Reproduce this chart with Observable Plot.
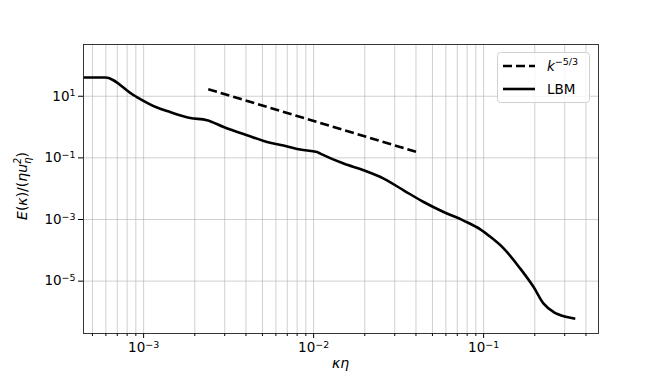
<!DOCTYPE html>
<html>
<head>
<meta charset="utf-8">
<script src="https://cdn.jsdelivr.net/npm/d3@7"></script>
<script src="https://cdn.jsdelivr.net/npm/@observablehq/plot@0.6"></script>
<style>
  html, body { margin: 0; padding: 0; background: #fff; }
  #chart { width: 664px; height: 374px; }
</style>
</head>
<body>
<div id="chart"></div>
<script>
// LBM energy spectrum
const lbmK = [4.42e-4, 5.95e-4, 8.73e-4, 1.199e-3, 1.373e-3, 1.882e-3, 2.36e-3, 2.955e-3, 4.057e-3, 5.32e-3, 6.66e-3, 8.35e-3, 1.047e-2, 1.095e-2, 1.501e-2, 1.968e-2, 2.581e-2, 3.384e-2, 4.437e-2, 5.815e-2, 7.625e-2, 0.0956, 0.1095, 0.1311, 0.1643, 0.1968, 0.2254, 0.2581, 0.3095, 0.3462];
const lbmE = [40.5, 40.5, 10.8, 4.30, 3.33, 1.975, 1.663, 1.007, 0.5418, 0.3282, 0.2508, 0.1861, 0.1554, 0.1379, 0.0653, 0.0396, 0.02128, 8.87e-3, 3.70e-3, 1.752e-3, 9.2e-4, 4.81e-4, 2.74e-4, 1.16e-4, 2.55e-5, 6.43e-6, 1.86e-6, 9.93e-7, 6.83e-7, 6.06e-7];

// k^{-5/3} reference line endpoints
const refK = [2.4e-3, 0.0408];
const refE = [16.9, 0.152];

// ticks
const xMajor = [1e-3, 1e-2, 1e-1];
const xMinor = [5e-4, 6e-4, 7e-4, 8e-4, 9e-4, 2e-3, 3e-3, 4e-3, 5e-3, 6e-3, 7e-3, 8e-3, 9e-3, 2e-2, 3e-2, 4e-2, 5e-2, 6e-2, 7e-2, 8e-2, 9e-2, 0.2, 0.3, 0.4];
const yMajor = [1e1, 1e-1, 1e-3, 1e-5];

const xDomain = [4.43e-4, 0.474];
const yDomain = [2.0e-7, 478];

const lbm = lbmK.map((k, i) => ({k, e: lbmE[i]}));
const ref = refK.map((k, i) => ({k, e: refE[i]}));

const fmt = d => "10^" + Math.round(Math.log10(d));
const gridStyle = {stroke: "#b0b0b0", strokeOpacity: 0.75, strokeWidth: 0.8};

const plot = Plot.plot({
  width: 664,
  height: 374,
  marginLeft: 83,
  marginRight: 66,
  marginTop: 44,
  marginBottom: 41,
  style: {fontFamily: "DejaVu Sans", fontSize: "13.5px", background: "#fff", color: "#000"},
  x: {type: "log", domain: xDomain},
  y: {type: "log", domain: yDomain},
  marks: [
    Plot.gridX(xMinor, gridStyle),
    Plot.gridX(xMajor, gridStyle),
    Plot.gridY(yMajor, gridStyle),
    Plot.axisX({ticks: xMinor, tickSize: 3, tickFormat: () => "", label: null, stroke: "#000"}),
    Plot.axisX({ticks: xMajor, tickSize: 5, tickPadding: 4, tickFormat: fmt, label: null, stroke: "#000"}),
    Plot.axisY({ticks: yMajor, tickSize: 5, tickPadding: 3, tickFormat: fmt, label: null, stroke: "#000"}),
    Plot.line(ref, {x: "k", y: "e", stroke: "#000", strokeWidth: 2.6, strokeDasharray: "9,4", strokeLinecap: "butt"}),
    Plot.line(lbm, {x: "k", y: "e", curve: "monotone-x", stroke: "#000", strokeWidth: 2.6, strokeLinecap: "butt", clip: true}),
    Plot.frame({stroke: "#222", strokeWidth: 0.9})
  ]
});

document.getElementById("chart").appendChild(plot);

// superscript formatting of tick labels
const svg = d3.select(plot);
svg.selectAll('g[aria-label$="tick label"] text').each(function() {
  const t = this.textContent;
  const m = /^10\^(-?\d+)$/.exec(t);
  if (!m) return;
  const sel = d3.select(this);
  sel.text(null);
  sel.append("tspan").text("10");
  sel.append("tspan").attr("dy", "-0.45em").attr("font-size", "0.7em").text(m[1].replace("-", "\u2212"));
});

// axis labels
svg.append("text")
  .attr("x", 340.5).attr("y", 368)
  .attr("text-anchor", "middle")
  .attr("font-family", "DejaVu Sans").attr("font-size", 14).attr("font-style", "italic")
  .text("\u03BA\u03B7");

const yl = svg.append("text")
  .attr("transform", "translate(27,186) rotate(-90)")
  .attr("text-anchor", "middle")
  .attr("font-family", "DejaVu Sans").attr("font-size", 14);
yl.append("tspan").attr("font-style", "italic").text("E");
yl.append("tspan").text("(");
yl.append("tspan").attr("font-style", "italic").text("\u03BA");
yl.append("tspan").text(")/(");
yl.append("tspan").attr("font-style", "italic").text("\u03B7u");
yl.append("tspan").attr("font-style", "italic").attr("font-size", 9.8).attr("dy", -6).text("2");
yl.append("tspan").attr("font-style", "italic").attr("font-size", 9.8).attr("dx", -6).attr("dy", 10).text("\u03B7");
yl.append("tspan").attr("dy", -4).text(")");

// legend
const lg = svg.append("g").attr("text-anchor", "start");
lg.append("rect")
  .attr("x", 497.5).attr("y", 52.5).attr("width", 92).attr("height", 50)
  .attr("rx", 3).attr("fill", "#fff").attr("fill-opacity", 0.8)
  .attr("stroke", "#d0d0d0").attr("stroke-width", 1);
lg.append("line").attr("x1", 503).attr("x2", 535).attr("y1", 66).attr("y2", 66)
  .attr("stroke", "#000").attr("stroke-width", 2.6).attr("stroke-dasharray", "9,4");
lg.append("line").attr("x1", 503).attr("x2", 535).attr("y1", 89).attr("y2", 89)
  .attr("stroke", "#000").attr("stroke-width", 2.6);
const l1 = lg.append("text").attr("x", 547).attr("y", 71).attr("text-anchor", "start")
  .attr("font-family", "DejaVu Sans").attr("font-size", 13.5);
l1.append("tspan").attr("font-style", "italic").text("k");
l1.append("tspan").attr("font-size", 9.5).attr("dy", -6).text("\u22125/3");
lg.append("text").attr("x", 547).attr("y", 94).attr("text-anchor", "start")
  .attr("font-family", "DejaVu Sans").attr("font-size", 13.5)
  .text("LBM");
</script>
</body>
</html>
